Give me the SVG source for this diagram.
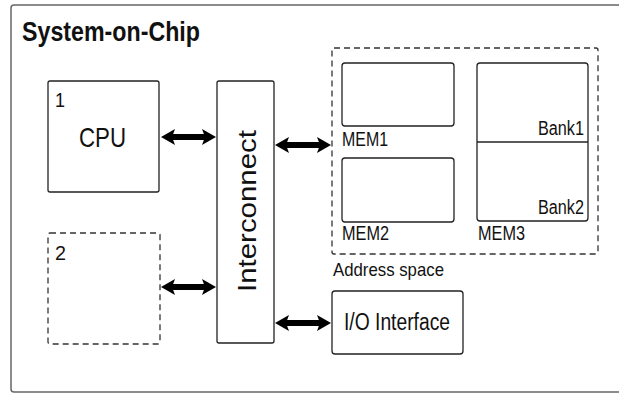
<svg xmlns="http://www.w3.org/2000/svg" width="619" height="394" viewBox="0 0 619 394">
  <style>
    text { font-family: "Liberation Sans", Arial, sans-serif; fill: #111; }
    .box { fill: #fff; stroke: #222; stroke-width: 1.3; }
    .dash { fill: none; stroke: #333; stroke-width: 1.3; stroke-dasharray: 6 4; }
    .conn { stroke: #000; stroke-width: 6; fill: none; marker-start: url(#head); marker-end: url(#head); }
  </style>
  <defs>
    <marker id="head" viewBox="0 0 14 16" refX="4" refY="8" markerWidth="14" markerHeight="16" markerUnits="userSpaceOnUse" orient="auto-start-reverse">
      <path d="M0,0 L14,8 L0,16 L3,8 Z" fill="#000"/>
    </marker>
  </defs>
  <rect width="619" height="394" fill="#fff"/>
  <g id="soc">
    <rect x="11" y="5" width="620" height="387" rx="3" fill="none" stroke="#666" stroke-width="1.5"/>
    <text x="22" y="41" font-size="27" font-weight="bold" textLength="178" lengthAdjust="spacingAndGlyphs">System-on-Chip</text>
  </g>
  <g id="cpu">
    <rect class="box" x="48" y="81" width="111" height="111" rx="2"/>
    <text x="55" y="107" font-size="21" textLength="10" lengthAdjust="spacingAndGlyphs">1</text>
    <text x="79" y="147" font-size="28" textLength="47" lengthAdjust="spacingAndGlyphs">CPU</text>
  </g>
  <g id="slot2">
    <rect class="dash" x="48" y="233" width="112" height="111" rx="2"/>
    <text x="55" y="260" font-size="21" textLength="11" lengthAdjust="spacingAndGlyphs">2</text>
  </g>
  <g id="interconnect">
    <rect class="box" x="217" y="81" width="57" height="262" rx="2"/>
    <text transform="translate(256,292) rotate(-90)" font-size="26" textLength="162" lengthAdjust="spacingAndGlyphs">Interconnect</text>
  </g>
  <g id="address-space">
    <rect class="dash" x="332" y="48" width="266" height="206" rx="2"/>
    <text x="333" y="276" font-size="19" textLength="111" lengthAdjust="spacingAndGlyphs">Address space</text>
  </g>
  <g id="mem1">
    <rect class="box" x="342" y="63" width="112" height="63" rx="3"/>
    <text x="342" y="146" font-size="20" textLength="46" lengthAdjust="spacingAndGlyphs">MEM1</text>
  </g>
  <g id="mem2">
    <rect class="box" x="342" y="158" width="112" height="64" rx="3"/>
    <text x="342" y="240" font-size="20" textLength="47" lengthAdjust="spacingAndGlyphs">MEM2</text>
  </g>
  <g id="mem3">
    <rect class="box" x="477" y="63" width="111" height="158" rx="3"/>
    <line x1="477" y1="142" x2="588" y2="142" stroke="#222" stroke-width="1.3"/>
    <text x="584" y="135" font-size="20" text-anchor="end" textLength="46" lengthAdjust="spacingAndGlyphs">Bank1</text>
    <text x="584" y="214" font-size="20" text-anchor="end" textLength="46" lengthAdjust="spacingAndGlyphs">Bank2</text>
    <text x="478" y="240" font-size="20" textLength="47" lengthAdjust="spacingAndGlyphs">MEM3</text>
  </g>
  <g id="io">
    <rect class="box" x="332" y="291" width="131" height="63" rx="3"/>
    <text x="344" y="330" font-size="23" textLength="106" lengthAdjust="spacingAndGlyphs">I/O Interface</text>
  </g>
  <g id="connectors">
    <line class="conn" x1="171" y1="137" x2="206" y2="137"/>
    <line class="conn" x1="171" y1="287" x2="206" y2="287"/>
    <line class="conn" x1="285" y1="145" x2="321" y2="145"/>
    <line class="conn" x1="285" y1="323" x2="321" y2="323"/>
  </g>
</svg>
